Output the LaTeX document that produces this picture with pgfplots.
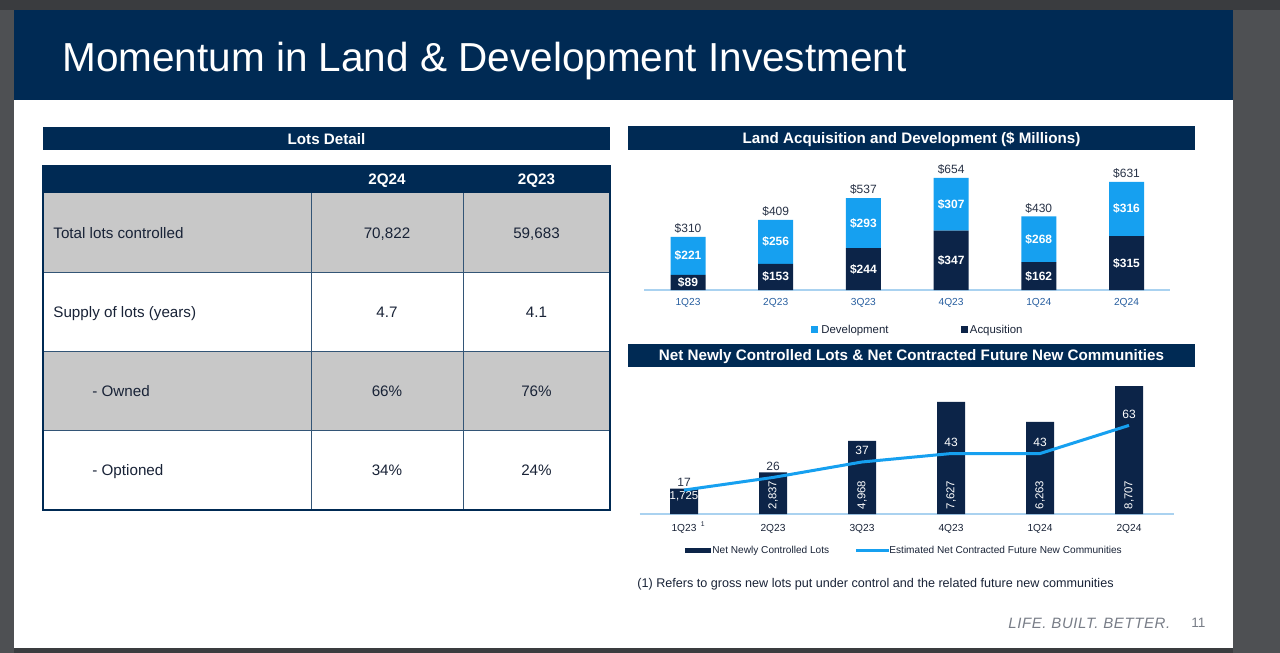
\documentclass[border=0pt]{standalone}
\usepackage{pgfplots}
\pgfplotsset{compat=1.18}
\usepackage{fontspec}
\setmainfont{Liberation Sans}
\definecolor{navy}{RGB}{0,42,84}
\definecolor{barnavy}{RGB}{12,36,72}
\definecolor{lblue}{RGB}{22,160,240}
\definecolor{tickblue}{RGB}{40,95,160}
\definecolor{txt}{RGB}{25,35,55}
\definecolor{lbltxt}{RGB}{40,50,70}
\definecolor{cellgray}{RGB}{200,200,200}
\definecolor{frame}{RGB}{58,60,63}
\definecolor{strip}{RGB}{78,80,83}
\definecolor{footgray}{RGB}{120,125,135}
\definecolor{axisblue}{RGB}{170,210,240}
\newcommand{\fs}[1]{\fontsize{#1}{#1}\selectfont}
\tikzset{
  seg/.style={text=white, font=\fs{6pt}\bfseries, inner sep=0},
  tot/.style={text=lbltxt, font=\fs{6pt}, inner sep=0, anchor=base, yshift=2.1pt},
  rot/.style={text=white, font=\fs{5.7pt}, inner sep=0, rotate=90},
  ll/.style={text=lbltxt, font=\fs{6pt}, inner sep=0, anchor=base, yshift=3.5pt},
}

\begin{document}
\begin{tikzpicture}
\begin{scope}[x=0.5pt,y=-0.5pt]
% screen frame and slide
\fill[frame] (0,0) rectangle (1280,653);
\fill[strip] (0,10) rectangle (14,653);
\fill[strip] (1233,10) rectangle (1280,653);
\fill[white] (14,10) rectangle (1233,648);
\fill[navy] (14,10) rectangle (1233,99.5);
\node[anchor=base west,text=white,inner sep=0,font=\fs{20.25pt}] at (62,71) {Momentum in Land \& Development Investment};

% ---- Lots Detail table
\fill[navy] (43,127) rectangle (610,150);
\node[anchor=base,text=white,inner sep=0,font=\fs{7.6pt}\bfseries] at (326.5,144) {Lots Detail};
\fill[navy] (43,165.5) rectangle (610,193.3);
\fill[cellgray] (43,193.3) rectangle (610,272.3);
\fill[cellgray] (43,351.3) rectangle (610,430.7);
\draw[navy!80, line width=0.5pt] (43,272.3) -- (610,272.3) (43,351.3) -- (610,351.3) (43,430.7) -- (610,430.7);
\draw[navy!80, line width=0.5pt] (311,193.3) -- (311,510) (463,193.3) -- (463,510);
\draw[navy, line width=0.6pt] (43,165.5) rectangle (610,510);
\draw[navy, line width=1pt] (43,510) -- (610,510);
\node[anchor=base,text=white,inner sep=0,font=\fs{7.6pt}\bfseries] at (387,184.8) {2Q24};
\node[anchor=base,text=white,inner sep=0,font=\fs{7.6pt}\bfseries] at (536.5,184.8) {2Q23};
\begin{scope}[every node/.style={inner sep=0,text=txt,font=\fs{7.6pt}}]
\node[anchor=base west] at (53,238.3) {Total lots controlled};
\node[anchor=base] at (387,238.3) {70,822};
\node[anchor=base] at (536.5,238.3) {59,683};
\node[anchor=base west] at (53,317.3) {Supply of lots (years)};
\node[anchor=base] at (387,317.3) {4.7};
\node[anchor=base] at (536.5,317.3) {4.1};
\node[anchor=base west] at (92,396.5) {- Owned};
\node[anchor=base] at (387,396.5) {66\%};
\node[anchor=base] at (536.5,396.5) {76\%};
\node[anchor=base west] at (92,475.9) {- Optioned};
\node[anchor=base] at (387,475.9) {34\%};
\node[anchor=base] at (536.5,475.9) {24\%};
\end{scope}

% ---- chart headers
\fill[navy] (628,126) rectangle (1195,150);
\node[anchor=base,text=white,inner sep=0,font=\fs{7.6pt}\bfseries] at (911.5,143.4) {Land Acquisition and Development (\$ Millions)};
\fill[navy] (628,343.5) rectangle (1195,367);
\node[anchor=base,text=white,inner sep=0,font=\fs{7.6pt}\bfseries] at (911.5,360.6) {Net Newly Controlled Lots \& Net Contracted Future New Communities};

% ---- legend chart 1
\fill[lblue] (811,326) rectangle (818,333);
\node[anchor=base west,inner sep=0,text=txt,font=\fs{5.7pt}] at (821,333) {Development};
\fill[barnavy] (961,326) rectangle (968,333);
\node[anchor=base west,inner sep=0,text=txt,font=\fs{5.7pt}] at (969.5,333) {Acqusition};

% ---- legend chart 2
\fill[barnavy] (685,547.7) rectangle (710.5,552.7);
\node[anchor=base west,inner sep=0,text=txt,font=\fs{5.05pt}] at (712,553.6) {Net Newly Controlled Lots};
\draw[lblue, line width=1.5pt] (856,550) -- (889,550);
\node[anchor=base west,inner sep=0,text=txt,font=\fs{5.05pt}] at (889,553.6) {Estimated Net Contracted Future New Communities};

% ---- footnote and footer
\node[anchor=base west,inner sep=0,text=txt,font=\fs{6.3pt}] at (637,587.5) {(1) Refers to gross new lots put under control and the related future new communities};
\node[anchor=base west,inner sep=0,text=footgray,font=\fs{7.5pt}\itshape\addfontfeature{LetterSpace=4}] at (1008,628.4) {LIFE. BUILT. BETTER.};
\node[anchor=base west,inner sep=0,text=footgray,font=\fs{6.8pt}] at (1191,627.6) {11};
\end{scope}

% ===== Chart 1: Land Acquisition and Development
\begin{axis}[
  at={(322.075pt,-145pt)}, anchor=south west,
  scale only axis, width=263.1pt, height=59.96pt,
  xmin=-0.5, xmax=5.5, ymin=0, ymax=700,
  ybar stacked, bar width=17.5pt,
  axis x line*=bottom, axis y line=none,
  x axis line style={draw=axisblue, line width=0.6pt, -},
  xtick={0,1,2,3,4,5}, xticklabels={1Q23,2Q23,3Q23,4Q23,1Q24,2Q24},
  major tick length=0pt,
  xticklabel style={font=\fs{5.1pt}, text=tickblue, anchor=base, yshift=-7.8pt, inner sep=0},
  clip=false,
]
\addplot[fill=barnavy, draw=none] coordinates {(0,89) (1,153) (2,244) (3,347) (4,162) (5,315)};
\addplot[fill=lblue, draw=none] coordinates {(0,221) (1,256) (2,293) (3,307) (4,268) (5,316)};
\end{axis}
% labels of chart 1 (overlay axis with the same geometry)
\begin{axis}[
  at={(322.075pt,-145pt)}, anchor=south west,
  scale only axis, width=263.1pt, height=59.96pt,
  xmin=-0.5, xmax=5.5, ymin=0, ymax=700,
  axis lines=none, clip=false,
]
\node[seg] at (axis cs:0,44.5) {\$89};
\node[seg] at (axis cs:1,76.5) {\$153};
\node[seg] at (axis cs:2,122) {\$244};
\node[seg] at (axis cs:3,173.5) {\$347};
\node[seg] at (axis cs:4,81) {\$162};
\node[seg] at (axis cs:5,157.5) {\$315};
\node[seg] at (axis cs:0,199.5) {\$221};
\node[seg] at (axis cs:1,281) {\$256};
\node[seg] at (axis cs:2,390.5) {\$293};
\node[seg] at (axis cs:3,500.5) {\$307};
\node[seg] at (axis cs:4,296) {\$268};
\node[seg] at (axis cs:5,473) {\$316};
\node[tot] at (axis cs:0,310) {\$310};
\node[tot] at (axis cs:1,409) {\$409};
\node[tot] at (axis cs:2,537) {\$537};
\node[tot] at (axis cs:3,654) {\$654};
\node[tot] at (axis cs:4,430) {\$430};
\node[tot] at (axis cs:5,631) {\$631};
\end{axis}

% ===== Chart 2: bars (lots)
\begin{axis}[
  at={(319.75pt,-257pt)}, anchor=south west,
  scale only axis, width=267pt, height=73.5pt,
  xmin=-0.5, xmax=5.5, ymin=0, ymax=10000,
  ybar, bar width=14pt,
  axis x line*=bottom, axis y line=none,
  x axis line style={draw=axisblue, line width=0.6pt, -},
  xtick={0,1,2,3,4,5}, xticklabels={{1Q23\rlap{\hspace{2.2pt}\raisebox{2.6pt}{\fs{3.4pt}1}}},2Q23,3Q23,4Q23,1Q24,2Q24},
  major tick length=0pt,
  xticklabel style={font=\fs{5.1pt}, text=txt, anchor=base, yshift=-8.7pt, inner sep=0},
  clip=false,
]
\addplot[fill=barnavy, draw=none] coordinates {(0,1725) (1,2837) (2,4968) (3,7627) (4,6263) (5,8707)};
\node[text=white, font=\fs{5.7pt}, inner sep=0] at (axis cs:0,1224) {1,725};
\node[rot] at (axis cs:1,1292) {2,837};
\node[rot] at (axis cs:2,1292) {4,968};
\node[rot] at (axis cs:3,1292) {7,627};
\node[rot] at (axis cs:4,1292) {6,263};
\node[rot] at (axis cs:5,1292) {8,707};
\end{axis}

% ===== Chart 2: line (communities)
\begin{axis}[
  at={(319.75pt,-257pt)}, anchor=south west,
  scale only axis, width=267pt, height=73.5pt,
  xmin=-0.5, xmax=5.5, ymin=0, ymax=104.55,
  axis lines=none, clip=false,
]
\addplot[lblue, line width=1.5pt, line join=round, mark=none] coordinates {(0,17) (1,26) (2,37) (3,43) (4,43) (5,63)};
\node[ll, yshift=-1.5pt] at (axis cs:0,17) {17};
\node[ll] at (axis cs:1,26) {26};
\node[ll, text=white] at (axis cs:2,37) {37};
\node[ll, text=white] at (axis cs:3,43) {43};
\node[ll, text=white] at (axis cs:4,43) {43};
\node[ll, text=white] at (axis cs:5,63) {63};
\end{axis}
\end{tikzpicture}
\end{document}
